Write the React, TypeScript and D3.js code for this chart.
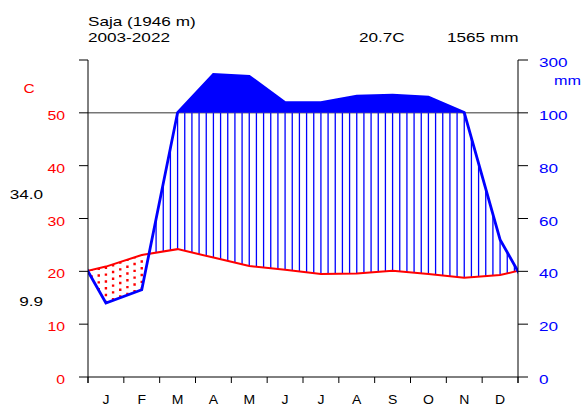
import React from 'react';
import * as d3 from 'd3';

// Monthly climate normals
const months = ['J', 'F', 'M', 'A', 'M', 'J', 'J', 'A', 'S', 'O', 'N', 'D'];
const temperature = [20.9, 23.1, 24.2, 22.6, 21.0, 20.3, 19.5, 19.6, 20.1, 19.5, 18.8, 19.3];
const precipitation = [28, 33, 101, 245, 238, 139, 139, 163, 167, 159, 101, 52];
const tempTicks = [0, 10, 20, 30, 40, 50, 60];
const precipTicks = [0, 20, 40, 60, 80, 100, 300];

const station = 'Saja (1946 m)';
const period = '2003-2022';
const meanTemp = '20.7C';
const annualPrecip = '1565 mm';
const warmestMax = '34.0';
const coldestMin = '9.9';

const W = 583;
const H = 407;
const FONT = '"Liberation Sans", Arial, sans-serif';
const RED = '#ff0000';
const BLUE = '#0000ff';

// precipitation (mm) expressed in temperature units: 2 mm per degree up to 100 mm,
// 20 mm per degree above
const toTempUnits = (mm: number) => (mm <= 100 ? mm / 2 : 50 + (mm - 100) / 20);

type LabelProps = {
  x: number;
  y: number;
  anchor?: 'start' | 'middle' | 'end';
  size?: number;
  sx?: number;
  fill?: string;
  children: React.ReactNode;
};

// wide sans label
function Label({ x, y, anchor = 'start', size = 13.5, sx = 1.27, fill = '#000', children }: LabelProps) {
  return (
    <text
      transform={`translate(${x},${y}) scale(${sx},1)`}
      textAnchor={anchor}
      fontSize={size}
      fill={fill}
    >
      {children}
    </text>
  );
}

export default function App() {
  const x = d3.scaleLinear().domain([0, 12]).range([88, 518]);
  const y = d3.scaleLinear().domain([0, 60]).range([377, 60]);

  // wrap December before January and January after December
  const xs = d3.range(14).map((i) => i - 0.5);
  const tExt = [temperature[11], ...temperature, temperature[0]];
  const pExt = [precipitation[11], ...precipitation, precipitation[0]].map(toTempUnits);

  const interp = (arr: number[], xv: number) => {
    const pos = xv + 0.5;
    const i = Math.min(Math.max(Math.floor(pos), 0), arr.length - 2);
    const t = pos - i;
    return arr[i] + (arr[i + 1] - arr[i]) * t;
  };

  const xi = d3.range(66).map((i) => -0.5 + (i * 13) / 65);
  const hatch = xi.map((xv) => ({ x: xv, t: interp(tExt, xv), p: interp(pExt, xv) }));

  const line = d3
    .line<[number, number]>()
    .x((d) => x(d[0]))
    .y((d) => y(d[1]));

  const tPts: [number, number][] = xs.map((xv, i) => [xv, tExt[i]]);
  const pPts: [number, number][] = xs.map((xv, i) => [xv, pExt[i]]);

  // part of the precipitation curve above 100 mm, with crossing points
  const wet: [number, number][] = [];
  for (let i = 0; i < pPts.length; i++) {
    const [a, v0] = pPts[i];
    wet.push([a, Math.max(v0, 50)]);
    if (i < pPts.length - 1) {
      const [b, v1] = pPts[i + 1];
      if ((v0 - 50) * (v1 - 50) < 0) {
        const xc = a + ((50 - v0) / (v1 - v0)) * (b - a);
        wet.push([xc, 50]);
      }
    }
  }
  const wetArea = d3
    .area<[number, number]>()
    .x((d) => x(d[0]))
    .y0(y(50))
    .y1((d) => y(d[1]));

  const [x0, x1] = x.range();
  const [yb, yt] = y.range();

  return (
    <svg
      width={W}
      height={H}
      style={{ position: 'absolute', left: 0, top: 0, background: '#fff' }}
      fontFamily={FONT}
    >
      <defs>
        <clipPath id="plot">
          <rect x={x0} y={yt} width={x1 - x0} height={yb - yt} />
        </clipPath>
      </defs>

      {/* header */}
      <Label x={88} y={26}>{station}</Label>
      <Label x={88} y={42}>{period}</Label>
      <Label x={359} y={42}>{meanTemp}</Label>
      <Label x={447} y={42}>{annualPrecip}</Label>

      {/* 100 mm reference line */}
      <line x1={x0} x2={x1} y1={y(50)} y2={y(50)} stroke="#333" strokeWidth={1} />

      <g clipPath="url(#plot)">
        {hatch
          .filter((d) => d.p > d.t)
          .map((d, i) => (
            <line
              key={'h' + i}
              x1={x(d.x)}
              x2={x(d.x)}
              y1={y(d.t)}
              y2={y(Math.min(d.p, 50))}
              stroke={BLUE}
              strokeWidth={1.3}
            />
          ))}
        {hatch
          .filter((d) => d.t > d.p)
          .map((d, i) => (
            <line
              key={'d' + i}
              x1={x(d.x)}
              x2={x(d.x)}
              y1={y(d.p)}
              y2={y(d.t)}
              stroke={RED}
              strokeWidth={2.4}
              strokeDasharray="2.4 4.4"
            />
          ))}
        <path d={wetArea(wet) ?? ''} fill={BLUE} />
        <path d={line(tPts) ?? ''} fill="none" stroke={RED} strokeWidth={2} />
        <path d={line(pPts) ?? ''} fill="none" stroke={BLUE} strokeWidth={2.8} />
      </g>

      {/* axes */}
      <line x1={x0} x2={x0} y1={yt} y2={yb + 6} stroke="#000" />
      <line x1={x1} x2={x1} y1={yt} y2={yb + 6} stroke="#000" />
      <line x1={x0} x2={x1} y1={yb} y2={yb} stroke="#000" />

      {tempTicks.map((t) => (
        <g key={'lt' + t}>
          <line x1={x0 - 9} x2={x0} y1={y(t)} y2={y(t)} stroke="#000" />
          {t < 60 && (
            <Label x={65} y={y(t) + 7} anchor="end" sx={1.17} fill={RED}>
              {t}
            </Label>
          )}
        </g>
      ))}
      <Label x={29} y={93} anchor="middle" sx={1.15} fill={RED}>C</Label>

      {precipTicks.map((p) => (
        <g key={'rt' + p}>
          <line x1={x1} x2={x1 + 10} y1={y(toTempUnits(p))} y2={y(toTempUnits(p))} stroke="#000" />
          <Label x={539} y={y(toTempUnits(p)) + 7} fill={BLUE}>
            {p}
          </Label>
        </g>
      ))}
      <Label x={554} y={85} sx={1.2} fill={BLUE}>mm</Label>

      {/* extreme temperatures */}
      <Label x={43} y={199} anchor="end">{warmestMax}</Label>
      <Label x={43} y={306} anchor="end">{coldestMin}</Label>

      {/* months */}
      {d3.range(13).map((i) => (
        <line key={'mt' + i} x1={x(i)} x2={x(i)} y1={yb} y2={yb + 6} stroke="#000" />
      ))}
      {months.map((m, i) => (
        <Label key={'m' + i} x={x(i + 0.5)} y={404} anchor="middle" size={12.5} sx={1.12}>
          {m}
        </Label>
      ))}
    </svg>
  );
}
